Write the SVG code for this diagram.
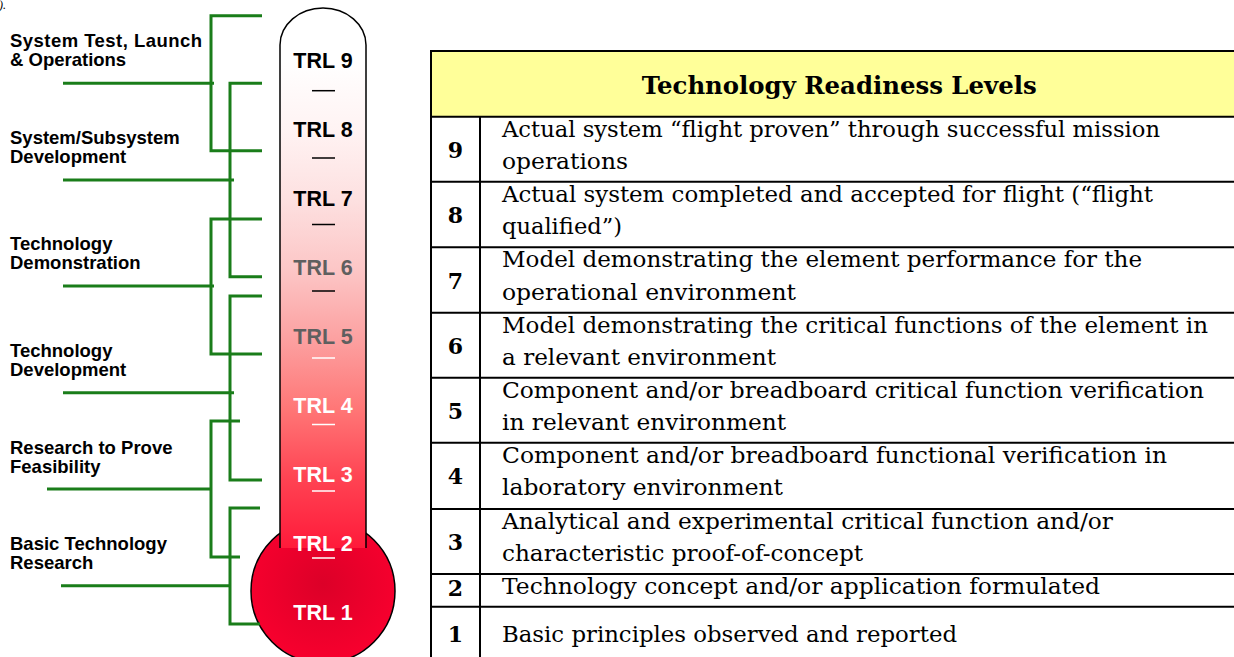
<svg xmlns="http://www.w3.org/2000/svg" width="1234" height="657" viewBox="0 0 1234 657">
<style>
.lbl{font-family:"Liberation Sans",Arial,sans-serif;font-weight:bold;font-size:18.5px;fill:#000}
.trl{font-family:"Liberation Sans",Arial,sans-serif;font-weight:bold;font-size:21.5px;text-anchor:middle}
.br{fill:none;stroke:#1a7d1a;stroke-width:3}
.tl{stroke:#000;stroke-width:2}
.num{font-family:"DejaVu Serif",serif;font-weight:bold;font-size:22px;text-anchor:middle;fill:#000}
.txt{font-family:"DejaVu Serif",serif;font-size:21.5px;fill:#000}
.hd{font-family:"DejaVu Serif",serif;font-weight:bold;font-size:24px;fill:#000}
</style>
<defs>
<linearGradient id="tube" gradientUnits="userSpaceOnUse" x1="0" y1="8" x2="0" y2="548">
<stop offset="0" stop-color="#ffffff"/>
<stop offset="0.096" stop-color="#ffffff"/>
<stop offset="0.226" stop-color="#fff3f3"/>
<stop offset="0.356" stop-color="#fde0e0"/>
<stop offset="0.485" stop-color="#fcc6c6"/>
<stop offset="0.615" stop-color="#fca0a0"/>
<stop offset="0.744" stop-color="#ff7676"/>
<stop offset="0.874" stop-color="#ff4252"/>
<stop offset="1" stop-color="#ff1a3a"/>
</linearGradient>
<radialGradient id="bulb" cx="0.5" cy="0.45" r="0.55">
<stop offset="0" stop-color="#dc0028"/>
<stop offset="1" stop-color="#f8002e"/>
</radialGradient>
</defs>
<rect width="1234" height="657" fill="#fff"/>
<text x="-1" y="9" font-family="Liberation Serif" font-style="italic" font-size="12">).</text>

<g id="thermometer">
<circle cx="323" cy="591" r="72" fill="url(#bulb)" stroke="#000" stroke-width="1.5"/>
<path d="M280,548 V45 A43,37 0 0 1 366,45 V548 Z" fill="url(#tube)" stroke="none"/>
<path d="M280,548 V45 A43,37 0 0 1 366,45 V548" fill="none" stroke="#000" stroke-width="1.5"/>
<g class="trl">
<text x="323" y="68" fill="#000">TRL 9</text>
<text x="323" y="137" fill="#000">TRL 8</text>
<text x="323" y="206" fill="#000">TRL 7</text>
<text x="323" y="275" fill="#5f5f5f">TRL 6</text>
<text x="323" y="344" fill="#5f5f5f">TRL 5</text>
<text x="323" y="413" fill="#fff">TRL 4</text>
<text x="323" y="482" fill="#fff">TRL 3</text>
<text x="323" y="551" fill="#fff">TRL 2</text>
<text x="323" y="620" fill="#fff">TRL 1</text>
</g>
<g stroke-width="1.5">
<line x1="312" y1="90.7" x2="335" y2="90.7" stroke="#000"/>
<line x1="312" y1="158" x2="335" y2="158" stroke="#000"/>
<line x1="312" y1="224.5" x2="335" y2="224.5" stroke="#000"/>
<line x1="312" y1="291" x2="335" y2="291" stroke="#000"/>
<line x1="312" y1="358" x2="335" y2="358" stroke="#fff"/>
<line x1="312" y1="424.5" x2="335" y2="424.5" stroke="#fff"/>
<line x1="312" y1="491" x2="335" y2="491" stroke="#fff"/>
<line x1="312" y1="558" x2="335" y2="558" stroke="#fff"/>
</g>
</g>

<g id="connectors">
<path class="br" d="M262,15.7 H211 V150.7 H262"/>
<path class="br" d="M63,83.3 H214"/>
<path class="br" d="M262,83.3 H230 V276.7 H262"/>
<path class="br" d="M63,180 H234"/>
<path class="br" d="M262,219 H211 V354 H262"/>
<path class="br" d="M63,286 H214"/>
<path class="br" d="M262,296 H230 V480 H262"/>
<path class="br" d="M63,392.7 H234"/>
<path class="br" d="M240,421 H211 V557 H240"/>
<path class="br" d="M47,489 H211"/>
<path class="br" d="M260,508 H230 V624 H260"/>
<path class="br" d="M61,585.7 H230"/>
</g>

<g id="label-system-test">
<text class="lbl" x="10" y="47" textLength="192">System Test, Launch</text>
<text class="lbl" x="10" y="65.5">&amp; Operations</text>
</g>
<g id="label-subsystem">
<text class="lbl" x="10" y="143.5">System/Subsystem</text>
<text class="lbl" x="10" y="162.5">Development</text>
</g>
<g id="label-tech-demo">
<text class="lbl" x="10" y="250">Technology</text>
<text class="lbl" x="10" y="269">Demonstration</text>
</g>
<g id="label-tech-dev">
<text class="lbl" x="10" y="357">Technology</text>
<text class="lbl" x="10" y="376">Development</text>
</g>
<g id="label-research">
<text class="lbl" x="10" y="453.5">Research to Prove</text>
<text class="lbl" x="10" y="472.5">Feasibility</text>
</g>
<g id="label-basic">
<text class="lbl" x="10" y="549.5">Basic Technology</text>
<text class="lbl" x="10" y="568.5">Research</text>
</g>

<g id="table">
<rect x="431" y="51" width="810" height="65.7" fill="#ffff99"/>
<text class="hd" x="641.7" y="94" textLength="395" lengthAdjust="spacingAndGlyphs">Technology Readiness Levels</text>
<line class="tl" x1="431" y1="51" x2="1234" y2="51"/>
<line class="tl" x1="431" y1="50" x2="431" y2="657"/>
<line class="tl" x1="480" y1="116.7" x2="480" y2="657"/>
<line class="tl" x1="431" y1="116.7" x2="1234" y2="116.7"/>
<line class="tl" x1="431" y1="181.7" x2="1234" y2="181.7"/>
<line class="tl" x1="431" y1="247.3" x2="1234" y2="247.3"/>
<line class="tl" x1="431" y1="312.7" x2="1234" y2="312.7"/>
<line class="tl" x1="431" y1="377.7" x2="1234" y2="377.7"/>
<line class="tl" x1="431" y1="442.7" x2="1234" y2="442.7"/>
<line class="tl" x1="431" y1="509" x2="1234" y2="509"/>
<line class="tl" x1="431" y1="574" x2="1234" y2="574"/>
<line class="tl" x1="431" y1="606.7" x2="1234" y2="606.7"/>

<g id="row9">
<text class="num" x="455.5" y="158">9</text>
<text class="txt" x="502" y="136.5" textLength="658" lengthAdjust="spacingAndGlyphs">Actual system “flight proven” through successful mission</text>
<text class="txt" x="502" y="169" textLength="126" lengthAdjust="spacingAndGlyphs">operations</text>
</g>
<g id="row8">
<text class="num" x="455.5" y="223">8</text>
<text class="txt" x="502" y="201.5" textLength="651" lengthAdjust="spacingAndGlyphs">Actual system completed and accepted for flight (“flight</text>
<text class="txt" x="502" y="234" textLength="120" lengthAdjust="spacingAndGlyphs">qualified”)</text>
</g>
<g id="row7">
<text class="num" x="455.5" y="288.5">7</text>
<text class="txt" x="502" y="267" textLength="640" lengthAdjust="spacingAndGlyphs">Model demonstrating the element performance for the</text>
<text class="txt" x="502" y="299.5" textLength="294" lengthAdjust="spacingAndGlyphs">operational environment</text>
</g>
<g id="row6">
<text class="num" x="455.5" y="353.5">6</text>
<text class="txt" x="502" y="332.5" textLength="706" lengthAdjust="spacingAndGlyphs">Model demonstrating the critical functions of the element in</text>
<text class="txt" x="502" y="365" textLength="274" lengthAdjust="spacingAndGlyphs">a relevant environment</text>
</g>
<g id="row5">
<text class="num" x="455.5" y="418.5">5</text>
<text class="txt" x="502" y="397.5" textLength="702" lengthAdjust="spacingAndGlyphs">Component and/or breadboard critical function verification</text>
<text class="txt" x="502" y="430" textLength="284" lengthAdjust="spacingAndGlyphs">in relevant environment</text>
</g>
<g id="row4">
<text class="num" x="455.5" y="484">4</text>
<text class="txt" x="502" y="462.5" textLength="665" lengthAdjust="spacingAndGlyphs">Component and/or breadboard functional verification in</text>
<text class="txt" x="502" y="495" textLength="281" lengthAdjust="spacingAndGlyphs">laboratory environment</text>
</g>
<g id="row3">
<text class="num" x="455.5" y="549.5">3</text>
<text class="txt" x="502" y="528.5" textLength="611" lengthAdjust="spacingAndGlyphs">Analytical and experimental critical function and/or</text>
<text class="txt" x="502" y="561" textLength="361" lengthAdjust="spacingAndGlyphs">characteristic proof-of-concept</text>
</g>
<g id="row2">
<text class="num" x="455.5" y="595.5">2</text>
<text class="txt" x="502" y="593.5" textLength="598" lengthAdjust="spacingAndGlyphs">Technology concept and/or application formulated</text>
</g>
<g id="row1">
<text class="num" x="455.5" y="642">1</text>
<text class="txt" x="502" y="641.5" textLength="455" lengthAdjust="spacingAndGlyphs">Basic principles observed and reported</text>
</g>
</g>
</svg>
